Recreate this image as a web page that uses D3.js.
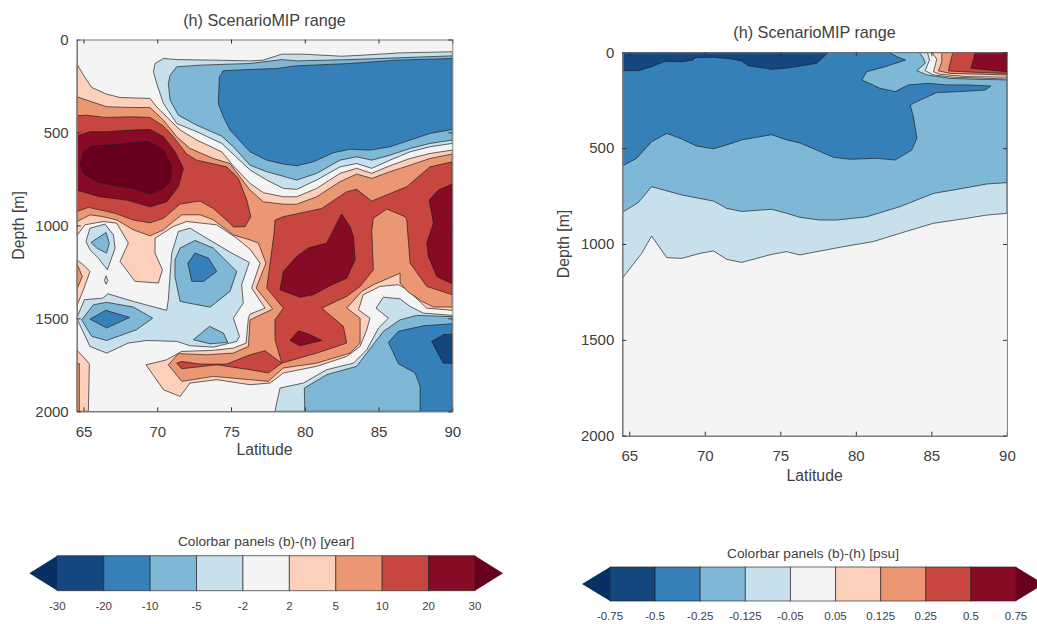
<!DOCTYPE html>
<html>
<head>
<meta charset="utf-8">
<script src="https://cdn.jsdelivr.net/npm/d3@7"></script>
<style>
  html, body { margin: 0; padding: 0; background: #fff; overflow: hidden; }
  svg { display: block; font-family: "Liberation Sans", Arial, sans-serif; }
  text { fill: #404040; }
</style>
</head>
<body>
<script>
// x and y ticks
const latTicks = [65, 70, 75, 80, 85, 90]
const depthTicks = [0, 500, 1000, 1500, 2000]

// colorbar levels
const ageLevels = [-30, -20, -10, -5, -2, 2, 5, 10, 20, 30]
const salLevels = [-0.75, -0.5, -0.25, -0.125, -0.05, 0.05, 0.125, 0.25, 0.5, 0.75]
const bandColors = ["#053061", "#15477f", "#3680b9", "#7fb7d7", "#c7e0eb", "#f4f4f4", "#fcd0bb", "#eb9774", "#c74640", "#870b24", "#67001f"]

// left panel contours, [latitude, depth]
const ageWarm2 = [[64.54,129],[65,192],[65.56,258],[66.57,294],[67.48,312],[69.51,317],[69.96,362],[70.64,416],[71.55,487],[72.68,541],[74.37,604],[75.16,680],[76.29,774],[77.19,824],[78.55,846],[79.45,846],[80.81,801],[82.39,720],[83.52,693],[84.54,720],[85.78,679],[87.14,640],[88.49,613],[90,595],[90,1457],[88.27,1445],[86.91,1343],[86.34,1319],[85.11,1328],[83.97,1373],[83.64,1454],[84.42,1499],[84.2,1561],[83.75,1651],[82.84,1705],[80.81,1758],[78.55,1794],[77.65,1848],[76.29,1857],[74.03,1830],[72.22,1848],[71.55,1920],[70.42,1884],[69.24,1750],[70.64,1723],[71.66,1678],[73.8,1672],[75.16,1660],[76.02,1633],[76.18,1499],[76.29,1477],[77.31,1445],[76.4,1337],[76.97,1203],[76.29,1128],[75.39,1069],[74.03,997],[72,979],[71.09,1006],[69.85,1069],[69.85,1149],[70.35,1239],[70.08,1310],[68.49,1301],[67.48,1194],[68.04,1095],[67.25,988],[66.35,979],[65.1,997],[64.59,1051],[64.54,1051]]
const ageWarm2Edge = [[64.54,1185],[64.99,1212],[65.44,1248],[65.04,1337],[64.54,1436]]
const ageWarm2Foot = [[64.54,1669],[65.4,1744],[65.33,2000],[64.54,2000]]
const ageWarm5 = [[64.54,308],[65.56,335],[66.57,362],[68.38,366],[69.51,366],[70.42,434],[71.32,523],[72.22,586],[73.8,640],[74.93,667],[75.6,738],[76.29,810],[77.19,873],[78.55,886],[79.45,886],[80.81,846],[82.39,765],[83.52,724],[84.54,747],[85.78,711],[87.14,676],[88.49,640],[90,616],[90,1439],[88.72,1439],[87.95,1409],[86.96,1355],[86.46,1310],[86.46,1257],[84.65,1319],[83.86,1355],[82.84,1445],[83.75,1499],[83.75,1633],[83.07,1687],[80.81,1741],[78.55,1767],[77.53,1839],[76.29,1830],[73.8,1812],[71.66,1839],[70.75,1750],[71.43,1690],[73.35,1696],[75.16,1687],[76.18,1651],[76.29,1508],[77.83,1450],[76.7,1337],[77.37,1203],[76.85,1095],[76.29,1078],[75.16,1051],[74.26,997],[73.8,970],[72.9,943],[71.66,943],[71.09,979],[70.42,1024],[69.51,1056],[68.38,1024],[67.25,970],[66.26,952],[65.44,943],[64.59,979],[64.54,979]]
const ageWarm5Edge = [[64.54,1203],[64.92,1275],[64.54,1346]]
const ageWarm5Foot = [[64.54,1741],[64.72,1744],[64.72,2000],[64.54,2000]]
const ageWarm10Left = [[64.54,410],[65.22,407],[66.46,419],[68.38,416],[69.51,419],[70.42,466],[71.09,523],[71.99,616],[72.68,649],[74.71,685],[75.5,747],[76.07,864],[76.34,953],[75.95,1007],[75.16,1009],[74.93,989],[73.8,909],[72.9,869],[71.55,885],[70.42,962],[69.51,986],[68.38,971],[67.14,935],[65.33,903],[64.54,926]]
const ageWarm10Right = [[77.42,1337],[77.92,1042],[77.98,971],[78.55,953],[81.15,909],[82.84,819],[83.52,806],[84.54,869],[86.91,792],[88.49,685],[90,658],[90,1373],[88.27,1328],[87.14,1203],[86.91,970],[86.8,953],[85.56,912],[84.65,962],[84.54,1025],[84.65,1239],[83.75,1328],[82.84,1382],[81.15,1445],[82.62,1543],[82.84,1633],[80.81,1687],[78.44,1741],[77.98,1615],[77.98,1508],[78.55,1445]]
const ageWarm10Wedge = [[71.32,1741],[71.66,1732],[72.9,1746],[74.71,1746],[76.29,1696],[77.31,1674],[78.44,1741],[77.53,1794],[76.29,1776],[74.03,1750],[71.66,1771]]
const ageWarm20Left = [[64.54,520],[65.44,496],[66.57,496],[68.38,487],[69.51,484],[70.42,523],[71.21,604],[71.77,694],[71.43,792],[70.64,873],[69.51,900],[67.93,864],[66.12,846],[64.54,810]]
const ageWarm20Mid = [[82.5,939],[82.05,1007],[81.83,1042],[81.49,1095],[80.25,1122],[79.45,1167],[78.55,1248],[78.32,1346],[79.68,1386],[80.58,1373],[81.6,1328],[82.84,1284],[83.41,1185],[83.3,1060],[83.07,1007]]
const ageWarm20Small = [[79.57,1567],[79,1619],[79.68,1647],[81.15,1619],[80.36,1588]]
const ageWarm20Right = [[90,778],[89.06,810],[88.43,864],[88.6,935],[88.72,988],[88.27,1095],[88.38,1167],[88.95,1275],[90,1314]]
const ageWarm30 = [[64.88,649],[65,604],[65.56,573],[67.48,563],[69.4,547],[70.42,595],[70.98,685],[70.87,765],[70.42,801],[69.51,831],[68.38,801],[67.25,788],[65.9,765],[65,720],[64.77,676]]
const ageCold2Top = [[69.74,174],[69.85,129],[70.42,102],[71.32,108],[73.8,111],[76.29,115],[77.19,111],[78.44,79],[79.9,79],[82.5,90],[84,84],[86.46,72],[90,66],[90,559],[88.49,577],[87.14,604],[85.78,649],[84.54,693],[83.52,667],[82.39,685],[80.81,756],[79.45,806],[78.55,801],[77.42,756],[76.29,702],[74.37,559],[72.68,496],[71.32,452],[70.42,344],[69.96,237]]
const ageCold5Top = [[70.75,237],[70.87,192],[71.32,147],[72.9,138],[76.29,129],[78.44,108],[79.45,115],[83.07,108],[90,88],[90,541],[88.49,559],[87.14,586],[85.78,622],[84.54,649],[83.52,631],[82.39,649],[80.81,720],[79.45,756],[77.42,711],[76.29,676],[75.16,577],[74.37,520],[72.68,461],[71.43,407],[70.87,326]]
const ageCold10Top = [[74.14,344],[74.21,201],[74.48,168],[76.29,161],[78.1,156],[79.34,142],[83.07,129],[86.23,111],[90,102],[90,484],[88.49,505],[87.14,541],[85.78,577],[84.42,595],[83.07,590],[81.94,609],[80.58,658],[79.45,679],[78.55,670],[77.42,649],[76.29,604],[74.93,487],[74.48,416]]
const ageCold2Blob = [[65.17,1086],[65.44,1015],[66.46,993],[67.03,1051],[67.14,1122],[66.62,1239],[66.01,1176],[65.44,1131]]
const ageCold5Blob = [[65.51,1092],[66.53,1038],[66.75,1095],[66.57,1149],[65.9,1122]]
const ageCold2Lens = [[66.53,1271],[66.66,1296],[66.53,1316],[66.42,1296]]
const ageCold2Mid = [[64.54,1499],[65.06,1400],[66.3,1391],[66.66,1368],[68.38,1409],[70.64,1457],[70.75,1400],[70.98,1149],[71.43,1033],[72.22,1015],[73.35,1069],[75.05,1149],[76.24,1199],[75.72,1319],[75.83,1418],[75.16,1499],[75.57,1597],[75.39,1624],[73.8,1655],[72.22,1647],[71.32,1624],[69.29,1619],[68.04,1633],[66.57,1687],[65.44,1651]]
const ageCold5Mid = [[71.2,1185],[71.55,1122],[72.56,1081],[73.8,1122],[75.39,1248],[74.93,1355],[73.58,1440],[71.55,1409],[71.2,1275]]
const ageCold10Mid = [[72.07,1203],[72.56,1149],[73.47,1176],[74.03,1248],[73.13,1301],[72.34,1301]]
const ageCold5Low = [[72.45,1615],[73.54,1543],[74.48,1579],[74.78,1629],[73.58,1637]]
const ageCold5Left = [[64.88,1508],[65.67,1427],[66.57,1414],[68.38,1439],[69.69,1499],[68.6,1561],[66.57,1619],[65.56,1597]]
const ageCold10Left = [[65.44,1504],[66.51,1457],[68.13,1495],[66.57,1552]]
const ageCold2Base = [[77.98,2000],[78.32,1875],[79.9,1848],[81.49,1776],[83.3,1741],[84.2,1669],[85,1552],[85.67,1499],[84.83,1445],[85.33,1386],[86.46,1395],[87.14,1436],[88.04,1472],[90,1484],[90,2000]]
const ageCold5Base = [[80,2000],[79.97,1875],[81.49,1803],[83.52,1758],[84.54,1651],[85.33,1570],[86.46,1508],[87.59,1484],[90,1491],[90,2000]]
const ageCold10Base = [[87.82,2000],[87.82,1866],[87.48,1794],[86.35,1744],[85.67,1629],[86.34,1570],[88.04,1540],[90,1529],[90,2000]]
const ageCold20Base = [[88.6,1624],[89.39,1588],[90,1585],[90,1741],[89.39,1741]]

// right panel contours, [latitude, depth]
const salCold2 = [[64.54,0],[64.54,1179],[65.82,1049],[66.48,958],[67.48,1071],[68.47,1075],[69.68,1049],[70.57,1036],[71.45,1080],[72.44,1096],[73.44,1075],[74.43,1054],[75.42,1040],[76.3,1057],[77.41,1040],[79.18,1014],[81.17,987],[82.93,944],[85.14,892],[87.35,866],[88.67,849],[90,840],[90,0]]
const salCold5 = [[64.54,0],[64.54,835],[65.6,784],[66.48,701],[68.47,744],[70.57,776],[71.45,814],[72.44,830],[74.43,819],[75.42,840],[76.3,861],[77.63,875],[78.74,875],[80.72,858],[82.93,805],[85.14,736],[87.35,706],[88.67,687],[90,680],[90,0]]
const salCold10 = [[64.54,0],[64.54,593],[65.49,553],[66.48,466],[67.48,423],[68.47,452],[69.46,489],[70.57,503],[71.45,483],[72.44,457],[73.44,443],[74.43,430],[75.42,457],[76.3,473],[77.41,510],[78.52,548],[79.62,558],[81.39,553],[82.6,562],[83.7,510],[84.04,449],[83.81,336],[83.6,275],[84.04,257],[85.36,210],[86.9,205],[88.56,197],[88.94,176],[87.35,170],[86,170],[84.8,162],[83.48,170],[82.6,205],[81.6,188],[80.4,144],[80.72,101],[81.94,75],[83.29,40],[82.82,26],[82.16,0]]
const salCold20 = [[64.54,0],[64.54,96],[65.6,96],[66.48,75],[67.37,47],[68.47,50],[69.24,40],[69.35,28],[70.57,26],[71.67,33],[72.44,45],[72.88,70],[74.43,89],[75.42,82],[76.3,72],[77.41,57],[78.19,0]]
const salEdge5 = [[84.19,0],[84.48,31],[84.59,57],[84.04,96],[84.7,118],[86.24,136],[88.23,141],[90,144],[90,0]]
const salEdge2 = [[84.74,0],[84.88,40],[84.59,96],[85.14,118],[86.46,130],[90,139],[90,0]]
const salWarm2 = [[85.03,0],[85.36,36],[85.14,101],[85.58,115],[87.35,127],[90,130],[90,0]]
const salWarm5 = [[85.69,0],[85.69,49],[85.47,97],[86.24,110],[90,118],[90,0]]
const salWarm10 = [[86.42,0],[86.24,57],[86.13,97],[87.79,104],[90,110],[90,0]]
const salWarm20 = [[87.9,0],[87.75,49],[87.61,83],[90,101],[90,0]]

// each contour with a value that falls inside its colour band, in paint order
const ageLayers = [
  [3, ageWarm2], [3, ageWarm2Edge], [3, ageWarm2Foot], [7, ageWarm5], [7, ageWarm5Edge], [7, ageWarm5Foot],
  [15, ageWarm10Left], [15, ageWarm10Right], [15, ageWarm10Wedge],
  [25, ageWarm20Left], [25, ageWarm20Mid], [25, ageWarm20Small], [25, ageWarm20Right], [35, ageWarm30],
  [-3, ageCold2Top], [-7, ageCold5Top], [-15, ageCold10Top],
  [-3, ageCold2Blob], [-7, ageCold5Blob], [-3, ageCold2Lens],
  [-3, ageCold2Mid], [-7, ageCold5Mid], [-15, ageCold10Mid], [-7, ageCold5Low], [-7, ageCold5Left], [-15, ageCold10Left],
  [-3, ageCold2Base], [-7, ageCold5Base], [-15, ageCold10Base], [-25, ageCold20Base]
]
const salLayers = [
  [-0.1, salCold2], [-0.2, salCold5], [-0.4, salCold10], [-0.6, salCold20],
  [-0.1, salEdge5], [0, salEdge2], [0.1, salWarm2], [0.2, salWarm5], [0.4, salWarm10], [0.6, salWarm20]
]

const svg = d3.select("body")
  .append("svg")
  .attr("width", 1037)
  .attr("height", 624)

function drawPanel(id, box, levels, layers, titleY, depthLabelX, latLabelY) {
  const x = d3.scaleLinear().domain([64.54, 90]).range([box.left, box.right])
  const y = d3.scaleLinear().domain([0, 2000]).range([box.top, box.bottom])
  const color = d3.scaleThreshold().domain(levels).range(bandColors)
  const line = d3.line().x(d => x(d[0])).y(d => y(d[1]))

  svg.append("clipPath").attr("id", id)
    .append("rect")
    .attr("x", box.left).attr("y", box.top)
    .attr("width", box.right - box.left).attr("height", box.bottom - box.top)

  const plot = svg.append("g").attr("clip-path", `url(#${id})`)
  plot.append("rect")
    .attr("x", box.left).attr("y", box.top)
    .attr("width", box.right - box.left).attr("height", box.bottom - box.top)
    .attr("fill", color(0))

  plot.selectAll("path")
    .data(layers)
    .enter()
    .append("path")
    .attr("d", d => line(d[1]) + "Z")
    .attr("fill", d => color(d[0]))
    .attr("stroke", "#1c1c1c")
    .attr("stroke-opacity", 0.75)
    .attr("stroke-width", 0.9)
    .attr("stroke-linejoin", "round")

  // MATLAB style box, ticks point inwards on all four sides
  const bottomAxis = d3.axisBottom(x).tickValues(latTicks).tickSizeInner(-4).tickSizeOuter(0).tickPadding(15)
  const leftAxis = d3.axisLeft(y).tickValues(depthTicks).tickFormat(d3.format("d")).tickSizeInner(-4).tickSizeOuter(0).tickPadding(8)
  const topAxis = d3.axisTop(x).tickValues(latTicks).tickFormat("").tickSizeInner(-4).tickSizeOuter(0)
  const rightAxis = d3.axisRight(y).tickValues(depthTicks).tickFormat("").tickSizeInner(-4).tickSizeOuter(0)

  const axes = [
    [bottomAxis, `translate(0,${box.bottom})`, 1.6],
    [leftAxis, `translate(${box.left},0)`, 1.6],
    [topAxis, `translate(0,${box.top})`, 1],
    [rightAxis, `translate(${box.right},0)`, 1]
  ]
  axes.forEach(a => {
    const g = svg.append("g").attr("transform", a[1]).call(a[0])
    g.selectAll("text").attr("font-size", 15).attr("font-family", "Liberation Sans").attr("fill", "#404040")
    g.selectAll("line").attr("stroke", "#333")
    g.select(".domain").attr("stroke", "#7c7c7c").attr("stroke-width", a[2])
  })

  const midX = (box.left + box.right) / 2
  svg.append("text").attr("x", midX).attr("y", titleY)
    .attr("text-anchor", "middle").attr("font-size", 16.2)
    .text("(h) ScenarioMIP range")
  svg.append("text").attr("x", midX).attr("y", latLabelY)
    .attr("text-anchor", "middle").attr("font-size", 15.8)
    .text("Latitude")
  svg.append("text")
    .attr("transform", `translate(${depthLabelX},${(box.top + box.bottom) / 2}) rotate(-90)`)
    .attr("text-anchor", "middle").attr("font-size", 15.8)
    .text("Depth [m]")
}

function drawColorbar(box, levels, label, titleY, labelY) {
  const pos = d3.scalePoint().domain(levels).range([box.left, box.right])
  const color = d3.scaleThreshold().domain(levels).range(bandColors)
  const midY = (box.top + box.bottom) / 2

  svg.append("g").selectAll("rect")
    .data(levels.slice(0, -1))
    .enter()
    .append("rect")
    .attr("x", d => pos(d))
    .attr("y", box.top)
    .attr("width", pos.step())
    .attr("height", box.bottom - box.top)
    .attr("fill", d => color(d))
    .attr("stroke", "#222")
    .attr("stroke-opacity", 0.65)
    .attr("stroke-width", 1)

  const tipLeft = d3.line()([[box.left, box.top], [box.left - box.tip, midY], [box.left, box.bottom]]) + "Z"
  const tipRight = d3.line()([[box.right, box.top], [box.right + box.tip, midY], [box.right, box.bottom]]) + "Z"
  svg.append("path").attr("d", tipLeft).attr("fill", bandColors[0])
  svg.append("path").attr("d", tipRight).attr("fill", bandColors[10])

  svg.append("g").selectAll("text")
    .data(levels)
    .enter()
    .append("text")
    .attr("x", d => pos(d))
    .attr("y", labelY)
    .attr("text-anchor", "middle")
    .attr("font-size", 11.5)
    .text(d => d)

  svg.append("text")
    .attr("x", (box.left + box.right) / 2).attr("y", titleY)
    .attr("text-anchor", "middle").attr("font-size", 13.7)
    .text(label)
}

drawPanel("clip-age", {left: 76.7, right: 452.3, top: 39.5, bottom: 411.3}, ageLevels, ageLayers, 25.5, 24, 455)
drawPanel("clip-sal", {left: 622.3, right: 1006.9, top: 52.3, bottom: 435.7}, salLevels, salLayers, 37.5, 569, 481)

drawColorbar({left: 57.3, right: 475, top: 555.7, bottom: 590.7, tip: 28}, ageLevels, "Colorbar panels (b)-(h) [year]", 545.5, 609.5)
drawColorbar({left: 610, right: 1016, top: 567, bottom: 601, tip: 28}, salLevels, "Colorbar panels (b)-(h) [psu]", 557.5, 619.5)
</script>
</body>
</html>
